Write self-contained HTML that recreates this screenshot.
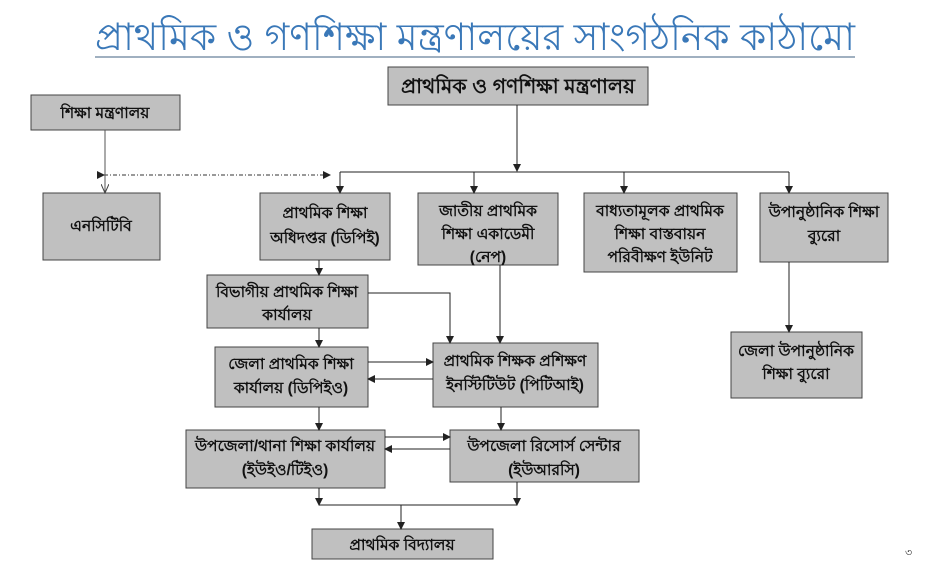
<!DOCTYPE html>
<html><head><meta charset="utf-8"><style>
body{margin:0;background:#fff;width:930px;height:576px;overflow:hidden}
svg text{font-family:"Liberation Sans","Noto Sans CJK SC",sans-serif}
.b{fill:#c0c0c0;stroke:#444;stroke-width:1}
.t{font-size:15.5px;font-weight:bold;fill:#111;text-anchor:middle}
.l{stroke:#222;stroke-width:1;fill:none}
</style></head><body>
<svg width="930" height="576" viewBox="0 0 930 576" xmlns="http://www.w3.org/2000/svg">
<defs><marker id="a" markerWidth="8" markerHeight="8" refX="7" refY="4" orient="auto" markerUnits="userSpaceOnUse"><path d="M0,0 L8,4 L0,8z" fill="#222"/></marker>
<marker id="o" markerWidth="10" markerHeight="8" refX="9" refY="4" orient="auto" markerUnits="userSpaceOnUse"><path d="M0,0 L9,4 L0,8" fill="none" stroke="#444"/></marker></defs>
<text x="475" y="50" font-size="38" fill="#3a78b8" text-anchor="middle" textLength="760" lengthAdjust="spacingAndGlyphs">প্রাথমিক ও গণশিক্ষা মন্ত্রণালয়ের সাংগঠনিক কাঠামো</text>
<line x1="95" y1="57" x2="855" y2="57" stroke="#a0b0c0" stroke-width="2"/>
<rect class="b" x="388" y="67" width="260" height="38"/><text class="t" x="518" y="93" style="font-size:20px" textLength="234" lengthAdjust="spacingAndGlyphs">প্রাথমিক ও গণশিক্ষা মন্ত্রণালয়</text>
<rect class="b" x="31" y="95" width="149" height="35"/><text class="t" x="105" y="118">শিক্ষা মন্ত্রণালয়</text>
<rect class="b" x="43" y="193" width="117" height="67"/><text class="t" x="101" y="231">এনসিটিবি</text>
<rect class="b" x="260" y="193" width="130" height="67"/><text class="t" x="325" y="218">প্রাথমিক শিক্ষা</text><text class="t" x="325" y="243">অধিদপ্তর (ডিপিই)</text>
<rect class="b" x="418" y="193" width="140" height="72"/><text class="t" x="488" y="216">জাতীয় প্রাথমিক</text><text class="t" x="488" y="239">শিক্ষা একাডেমী</text><text class="t" x="488" y="262">(নেপ)</text>
<rect class="b" x="584" y="193" width="153" height="79"/><text class="t" x="660" y="216">বাধ্যতামূলক প্রাথমিক</text><text class="t" x="660" y="239">শিক্ষা বাস্তবায়ন</text><text class="t" x="660" y="262">পরিবীক্ষণ ইউনিট</text>
<rect class="b" x="760" y="193" width="128" height="69"/><text class="t" x="824" y="217">উপানুষ্ঠানিক শিক্ষা</text><text class="t" x="824" y="241">ব্যুরো</text>
<rect class="b" x="207" y="275" width="161" height="53"/><text class="t" x="287" y="297">বিভাগীয় প্রাথমিক শিক্ষা</text><text class="t" x="287" y="320">কার্যালয়</text>
<rect class="b" x="215" y="347" width="153" height="60"/><text class="t" x="291" y="369">জেলা প্রাথমিক শিক্ষা</text><text class="t" x="291" y="393">কার্যালয় (ডিপিইও)</text>
<rect class="b" x="433" y="343" width="165" height="64"/><text class="t" x="515" y="366">প্রাথমিক শিক্ষক প্রশিক্ষণ</text><text class="t" x="515" y="390">ইনস্টিটিউট (পিটিআই)</text>
<rect class="b" x="186" y="430" width="199" height="58"/><text class="t" x="285" y="451">উপজেলা/থানা শিক্ষা কার্যালয়</text><text class="t" x="285" y="475">(ইউইও/টিইও)</text>
<rect class="b" x="450" y="430" width="189" height="52"/><text class="t" x="544" y="451">উপজেলা রিসোর্স সেন্টার</text><text class="t" x="544" y="475">(ইউআরসি)</text>
<rect class="b" x="312" y="529" width="181" height="30"/><text class="t" x="402" y="550">প্রাথমিক বিদ্যালয়</text>
<rect class="b" x="731" y="332" width="131" height="66"/><text class="t" x="796" y="356">জেলা উপানুষ্ঠানিক</text><text class="t" x="796" y="379">শিক্ষা ব্যুরো</text>
<line class="l" x1="517" y1="105" x2="517" y2="171" marker-end="url(#a)"/>
<line class="l" x1="340" y1="172" x2="789" y2="172"/>
<line class="l" x1="340" y1="172" x2="340" y2="193" marker-end="url(#a)"/>
<line class="l" x1="474" y1="172" x2="474" y2="193" marker-end="url(#a)"/>
<line class="l" x1="624" y1="172" x2="624" y2="193" marker-end="url(#a)"/>
<line class="l" x1="789" y1="172" x2="789" y2="193" marker-end="url(#a)"/>
<line x1="104" y1="175" x2="330" y2="175" stroke="#333" stroke-dasharray="4,2,1,2" marker-end="url(#a)" marker-start="url(#a)"/>
<line x1="105" y1="130" x2="105" y2="193" stroke="#555" marker-end="url(#o)"/>
<line class="l" x1="319" y1="260" x2="319" y2="275" marker-end="url(#a)"/>
<polyline class="l" points="368,293 450,293 450,343" marker-end="url(#a)"/>
<line class="l" x1="500" y1="265" x2="500" y2="343" marker-end="url(#a)"/>
<line class="l" x1="319" y1="328" x2="319" y2="347" marker-end="url(#a)"/>
<line class="l" x1="368" y1="362" x2="433" y2="362" marker-end="url(#a)"/>
<line class="l" x1="433" y1="379" x2="368" y2="379" marker-end="url(#a)"/>
<line class="l" x1="319" y1="407" x2="319" y2="430" marker-end="url(#a)"/>
<line class="l" x1="501" y1="407" x2="501" y2="430" marker-end="url(#a)"/>
<line class="l" x1="385" y1="437" x2="450" y2="437" marker-end="url(#a)"/>
<line class="l" x1="450" y1="449" x2="385" y2="449" marker-end="url(#a)"/>
<line class="l" x1="319" y1="488" x2="319" y2="505" marker-end="url(#a)"/>
<line class="l" x1="517" y1="482" x2="517" y2="505" marker-end="url(#a)"/>
<line class="l" x1="319" y1="505" x2="517" y2="505"/>
<line class="l" x1="401" y1="505" x2="401" y2="529" marker-end="url(#a)"/>
<line class="l" x1="789" y1="262" x2="789" y2="332" marker-end="url(#a)"/>
<text x="905" y="556" font-size="11" fill="#333">৩</text>
</svg>
</body></html>
